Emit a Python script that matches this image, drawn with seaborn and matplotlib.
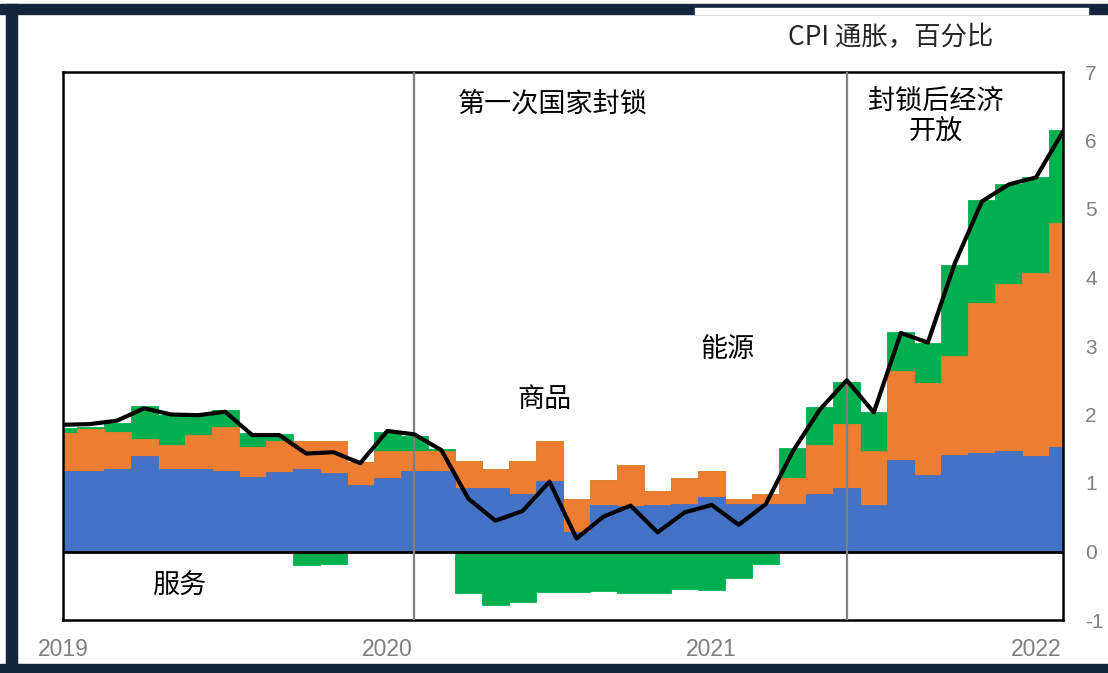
import numpy as np
import pandas as pd
import matplotlib
matplotlib.use("Agg")
import matplotlib.pyplot as plt
import seaborn as sns
from matplotlib.patches import Rectangle

# Monthly contributions to CPI inflation, Jan 2019 - Feb 2022 (percentage points)
months = [str(p) for p in pd.period_range("2019-01", "2022-02", freq="M")]
services = [1.17, 1.18, 1.20, 1.39, 1.21, 1.20, 1.18, 1.09, 1.16, 1.20,
            1.14, 0.97, 1.08, 1.18, 1.18, 0.92, 0.92, 0.84, 1.03, 0.28,
            0.68, 0.67, 0.68, 0.70, 0.80, 0.70, 0.70, 0.69, 0.84, 0.93,
            0.68, 1.34, 1.11, 1.41, 1.44, 1.47, 1.39, 1.52]
goods = [0.56, 0.61, 0.54, 0.25, 0.35, 0.50, 0.64, 0.43, 0.45, 0.41,
         0.47, 0.33, 0.38, 0.28, 0.28, 0.40, 0.29, 0.48, 0.58, 0.49,
         0.36, 0.60, 0.21, 0.38, 0.38, 0.07, 0.14, 0.38, 0.72, 0.93,
         0.79, 1.30, 1.35, 1.45, 2.19, 2.44, 2.67, 3.27]
energy = [0.08, 0.03, 0.13, 0.49, 0.44, 0.30, 0.24, 0.21, 0.10, -0.19,
          -0.18, 0.00, 0.28, 0.23, 0.03, -0.61, -0.78, -0.74, -0.59, -0.59,
          -0.57, -0.61, -0.60, -0.55, -0.56, -0.38, -0.18, 0.44, 0.55, 0.62,
          0.56, 0.57, 0.59, 1.32, 1.50, 1.45, 1.40, 1.37]
cpi = [1.85, 1.86, 1.91, 2.09, 2.00, 1.99, 2.04, 1.70, 1.70, 1.43,
       1.45, 1.29, 1.76, 1.71, 1.48, 0.77, 0.45, 0.59, 1.02, 0.19,
       0.51, 0.67, 0.28, 0.57, 0.68, 0.39, 0.69, 1.46, 2.07, 2.50,
       2.03, 3.19, 3.05, 4.21, 5.11, 5.36, 5.46, 6.13]

year_ticks = [0, 12, 24, 36]
year_labels = ["2019", "2020", "2021", "2022"]
lockdown_lines = [13, 29]

blue, orange, green = "#4472C4", "#ED7D31", "#00B050"
navy = "#14253D"

df = pd.DataFrame({"month": months, "services": services, "goods": goods,
                   "energy": energy, "cpi": cpi})
df["energy_pos"] = df["energy"].clip(lower=0)
df["energy_neg"] = df["energy"].clip(upper=0)
df["top_goods"] = df["services"] + df["goods"]
df["top_energy"] = df["top_goods"] + df["energy_pos"]

sns.set_style("white")
plt.rcParams["font.family"] = ["Noto Sans CJK SC", "DejaVu Sans"]

fig = plt.figure(figsize=(11.08, 6.73), dpi=100)
ax = fig.add_axes([63 / 1108, 1 - 620 / 673, 1000 / 1108, 548 / 673])

# stacked bars: draw cumulative tops back to front
bar_kw = dict(x="month", width=1, saturation=1, errorbar=None, ax=ax, linewidth=0.6)
sns.barplot(data=df, y="top_energy", color=green, edgecolor=green, **bar_kw)
sns.barplot(data=df, y="energy_neg", color=green, edgecolor=green, **bar_kw)
sns.barplot(data=df, y="top_goods", color=orange, edgecolor=orange, **bar_kw)
sns.barplot(data=df, y="services", color=blue, edgecolor=blue, **bar_kw)

ax.axhline(0, color="black", lw=2, zorder=3)
for v in lockdown_lines:
    ax.axvline(v, color="#7f7f7f", lw=1.6, zorder=3)

sns.lineplot(x=np.arange(len(cpi)), y=cpi, color="black", linewidth=3, ax=ax, zorder=4)

ax.set_xlim(0, len(cpi) - 1)
ax.set_ylim(-1, 7)
ax.set_xticks(year_ticks)
ax.set_xticklabels(year_labels, family="Liberation Sans", fontsize=16.5, color="#7f7f7f")
ax.yaxis.tick_right()
ax.set_yticks(range(-1, 8))
ax.set_yticklabels([str(t) for t in range(-1, 8)], family="Liberation Sans",
                   fontsize=15, color="#7f7f7f")
ax.tick_params(axis="x", length=0, pad=13)
ax.tick_params(axis="y", length=0, pad=16)
ax.set_xlabel("")
ax.set_ylabel("")
for s in ax.spines.values():
    s.set_visible(True)
    s.set_color("black")
    s.set_linewidth(1.8)

# annotations
tkw = dict(fontsize=19.5, color="black", ha="center", va="center")
ax.text(18.1, 6.53, "第一次国家封锁", **tkw)
ax.text(32.3, 6.35, "封锁后经济\n开放", linespacing=1.15, **tkw)
ax.text(24.6, 2.95, "能源", **tkw)
ax.text(17.8, 2.22, "商品", **tkw)
ax.text(4.3, -0.51, "服务", **tkw)
fig.text(891 / 1108, 1 - 37 / 673, "CPI 通胀，百分比", fontsize=19, ha="center", va="center")

# dark frame around the picture
def px_rect(x0, y0, x1, y1, color, z):
    fig.patches.append(Rectangle((x0 / 1108, 1 - y1 / 673), (x1 - x0) / 1108,
                                 (y1 - y0) / 673, transform=fig.transFigure,
                                 color=color, zorder=z))

px_rect(0, 4, 1108, 14, navy, 10)
px_rect(695, 8, 1088, 14, "white", 11)
px_rect(6, 4, 17, 673, navy, 10)
px_rect(0, 664, 1108, 673, navy, 10)

fig.savefig("out.png", dpi=100)
